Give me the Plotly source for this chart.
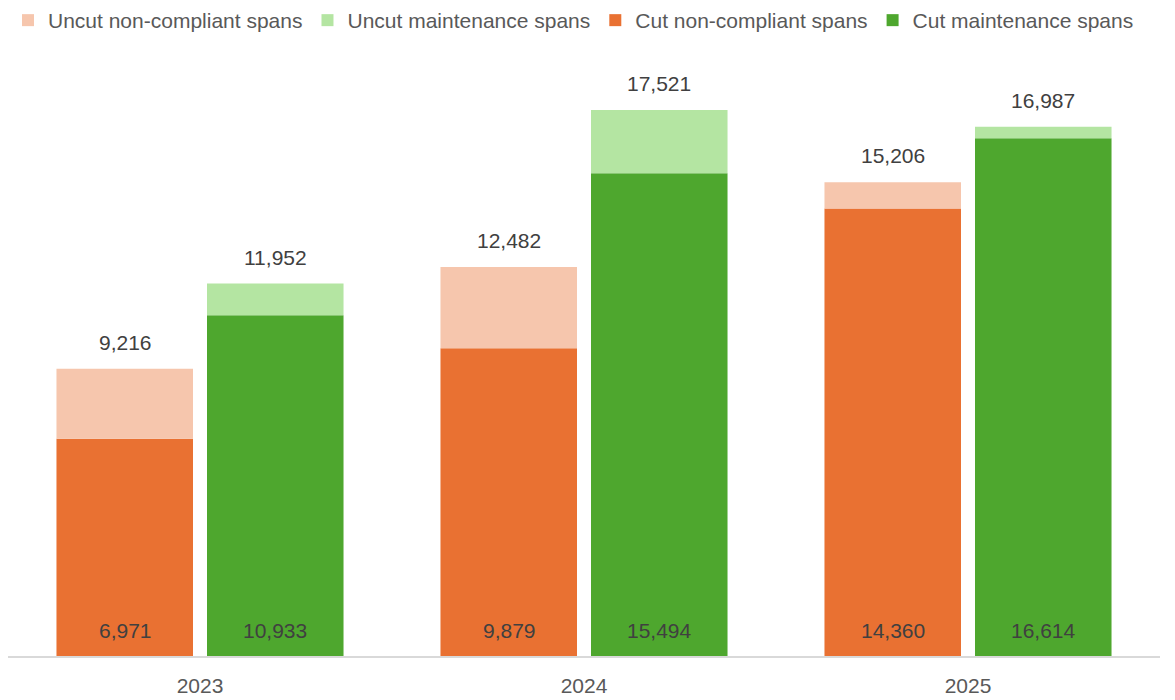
import plotly.graph_objects as go

years = ["2023", "2024", "2025"]
cut_noncompliant = [6971, 9879, 14360]
total_noncompliant = [9216, 12482, 15206]
cut_maintenance = [10933, 15494, 16614]
total_maintenance = [11952, 17521, 16987]

uncut_noncompliant = [t - c for t, c in zip(total_noncompliant, cut_noncompliant)]
uncut_maintenance = [t - c for t, c in zip(total_maintenance, cut_maintenance)]

ORANGE = "#E97132"
ORANGE_LIGHT = "#F6C6AD"
GREEN = "#4EA72E"
GREEN_LIGHT = "#B4E5A2"
TEXT = "#404040"
FONT = "Liberation Sans, Arial, sans-serif"

fig = go.Figure()
fig.add_bar(x=years, y=cut_noncompliant, name="Cut non-compliant spans",
            offsetgroup="nc", marker_color=ORANGE, legendrank=3)
fig.add_bar(x=years, y=uncut_noncompliant, name="Uncut non-compliant spans",
            offsetgroup="nc", marker_color=ORANGE_LIGHT, legendrank=1)
fig.add_bar(x=years, y=cut_maintenance, name="Cut maintenance spans",
            offsetgroup="mt", marker_color=GREEN, legendrank=4)
fig.add_bar(x=years, y=uncut_maintenance, name="Uncut maintenance spans",
            offsetgroup="mt", marker_color=GREEN_LIGHT, legendrank=2)
fig.update_traces(marker_line_width=0, hoverinfo="skip")

# value labels: totals above each stack, cut counts near the base
annotations = []
for i, (cn, tn, cm, tm) in enumerate(zip(cut_noncompliant, total_noncompliant,
                                         cut_maintenance, total_maintenance)):
    for shift, cut, total in ((-75, cn, tn), (75, cm, tm)):
        annotations.append(dict(x=i, y=total, xshift=shift, yshift=13,
                                text=f"{total:,}", showarrow=False,
                                yanchor="bottom",
                                font=dict(size=21, color=TEXT, family=FONT)))
        annotations.append(dict(x=i, y=0, xshift=shift, yshift=12,
                                text=f"{cut:,}", showarrow=False,
                                yanchor="bottom",
                                font=dict(size=21, color=TEXT, family=FONT)))

fig.update_layout(
    width=1175, height=700,
    barmode="relative",
    bargap=0.216, bargroupgap=0.093,
    plot_bgcolor="white", paper_bgcolor="white",
    margin=dict(l=8, r=15, t=50, b=44, autoexpand=False),
    font=dict(family=FONT, color="#595959", size=21),
    showlegend=True,
    legend=dict(orientation="h", x=0.0, xanchor="left", y=1.0, yanchor="top",
                yref="container", font=dict(size=21, color="#595959"),
                traceorder="normal", itemsizing="constant"),
    annotations=annotations,
    xaxis=dict(type="category", range=[-0.5, 2.5], showline=True, automargin=False,
               linecolor="#D9D9D9", linewidth=2, ticks="", ticklabelstandoff=10,
               tickfont=dict(size=21, color="#595959")),
    yaxis=dict(range=[0, 19448], visible=False, showgrid=False, zeroline=False),
)

fig.write_html("out.html")
